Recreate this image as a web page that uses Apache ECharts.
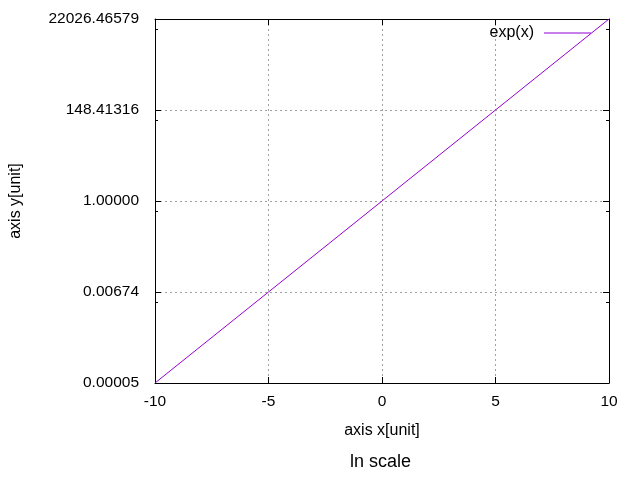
<!DOCTYPE html>
<html>
<head>
<meta charset="utf-8">
<script src="https://cdn.jsdelivr.net/npm/echarts@6/dist/echarts.min.js"></script>
<style>html,body{margin:0;padding:0;background:#fff}#c{width:640px;height:480px}</style>
</head>
<body>
<div id="c"></div>
<script>
// Data
var xValues = [-10, -5, 0, 5, 10];
var yValues = [0.0000454, 0.00674, 1.0, 148.41316, 22026.46579];
var xTickLabels = ['-10', '-5', '0', '5', '10'];
var yTickLabels = ['0.00005', '0.00674', '1.00000', '148.41316', '22026.46579'];
var seriesName = 'exp(x)';

var FONT = 'Liberation Sans, Arial, sans-serif';
var FS = 15.5;
var FSN = 16;
var lineColor = '#9400d3';

var chart = echarts.init(document.getElementById('c'), null, {renderer: 'canvas'});

var data = xValues.map(function (x, i) { return [x, Math.log(yValues[i])]; });

var yMin = -10, yMax = 10, yInt = 5;
var minorOff = 0.55;          // minor tick sits this far (ln units) below each major tick
var minorStart = yMin + yInt - minorOff; // first visible minor tick

function baseAxisCommon() {
  return {
    axisLine: {show: true, onZero: false, lineStyle: {color: '#000', width: 1}},
    axisTick: {show: true, inside: true, length: 6, lineStyle: {color: '#000', width: 1}},
    splitLine: {show: false},
    axisLabel: {show: false}
  };
}

var G = {left: 155, right: 31, top: 19, bottom: 97};
var plotH = 480 - G.top - G.bottom;
var grid2Bottom = G.bottom + (minorStart - yMin) / (yMax - yMin) * plotH;

var option = {
  animation: false,
  backgroundColor: '#fff',
  title: {
    text: 'ln scale',
    left: 345,
    top: 448,
    textStyle: {fontFamily: FONT, fontSize: 18, fontWeight: 'normal', color: '#000'}
  },
  legend: {
    data: [seriesName],
    right: 44,
    top: 20,
    align: 'right',
    icon: 'rect',
    itemWidth: 47,
    itemHeight: 1,
    textStyle: {fontFamily: FONT, fontSize: FSN, color: '#000', padding: [0, 5, 0, 0]}
  },
  grid: [
    {left: G.left, right: G.right, top: G.top, bottom: G.bottom, containLabel: false},
    {left: G.left, right: G.right, top: G.top, bottom: grid2Bottom, containLabel: false}
  ],
  xAxis: [
    Object.assign(baseAxisCommon(), {
      gridIndex: 0, type: 'value', position: 'bottom', min: -10, max: 10, interval: 5,
      name: 'axis x[unit]', nameLocation: 'middle', nameGap: 40,
      nameTextStyle: {fontFamily: FONT, fontSize: FSN, color: '#000'},
      axisLabel: {show: true, margin: 11, fontFamily: FONT, fontSize: FS, color: '#000',
        formatter: function (v) { return xTickLabels[Math.round((v + 10) / 5)]; }},
      splitLine: {show: true, lineStyle: {color: '#a0a0a0', type: [2, 3], width: 1}}
    }),
    Object.assign(baseAxisCommon(), {
      gridIndex: 0, type: 'value', position: 'top', min: -10, max: 10, interval: 5
    }),
    {gridIndex: 1, type: 'value', min: -10, max: 10, show: false}
  ],
  yAxis: [
    Object.assign(baseAxisCommon(), {
      gridIndex: 0, type: 'value', position: 'left', min: yMin, max: yMax, interval: yInt,
      name: 'axis y[unit]', nameLocation: 'middle', nameGap: 131, nameRotate: 90,
      nameTextStyle: {fontFamily: FONT, fontSize: FSN, color: '#000'},
      axisLabel: {show: true, margin: 16, fontFamily: FONT, fontSize: FS, color: '#000',
        formatter: function (v) { return yTickLabels[Math.round((v - yMin) / yInt)]; }},
      splitLine: {show: true, lineStyle: {color: '#a0a0a0', type: [2, 3], width: 1}}
    }),
    Object.assign(baseAxisCommon(), {
      gridIndex: 0, type: 'value', position: 'right', min: yMin, max: yMax, interval: yInt
    }),
    Object.assign(baseAxisCommon(), {
      gridIndex: 1, type: 'value', position: 'left', min: minorStart, max: yMax, interval: yInt,
      axisLine: {show: false, onZero: false}, axisTick: {show: true, inside: true, length: 3, lineStyle: {color: '#000'}}
    }),
    Object.assign(baseAxisCommon(), {
      gridIndex: 1, type: 'value', position: 'right', min: minorStart, max: yMax, interval: yInt,
      axisLine: {show: false, onZero: false}, axisTick: {show: true, inside: true, length: 3, lineStyle: {color: '#000'}}
    })
  ],
  series: [{
    name: seriesName,
    type: 'line',
    xAxisIndex: 0,
    yAxisIndex: 0,
    data: data,
    showSymbol: false,
    symbol: 'none',
    lineStyle: {color: lineColor, width: 1},
    itemStyle: {color: lineColor}
  }]
};
chart.setOption(option);
</script>
</body>
</html>
